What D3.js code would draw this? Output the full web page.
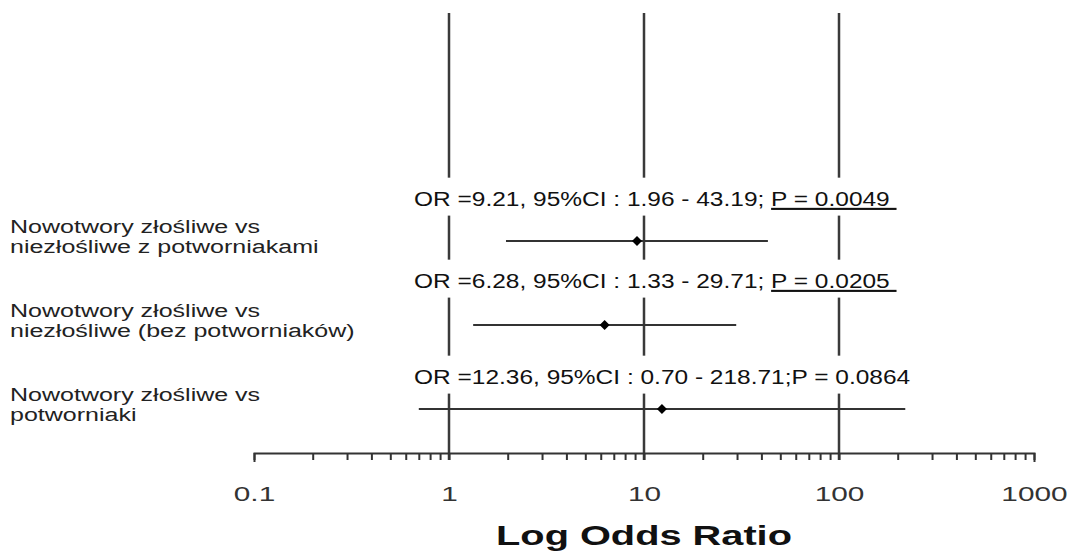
<!DOCTYPE html>
<html lang="pl">
<head>
<meta charset="UTF-8" />
<title>Log Odds Ratio</title>
<script src="https://cdn.jsdelivr.net/npm/d3@7/dist/d3.min.js"></script>
<style>
  html, body { margin: 0; padding: 0; background: #fff; }
  svg { display: block; font-family: "Liberation Sans", Arial, sans-serif; }
</style>
</head>
<body>
<script>
// data
var groupLabels = [
  ["Nowotwory złośliwe vs", "niezłośliwe z potworniakami"],
  ["Nowotwory złośliwe vs", "niezłośliwe (bez potworniaków)"],
  ["Nowotwory złośliwe vs", "potworniaki"]
];
var oddsRatios = [9.21, 6.28, 12.36];
var ciLower = [1.96, 1.33, 0.70];
var ciUpper = [43.19, 29.71, 218.71];
var pValues = ["0.0049", "0.0205", "0.0864"];
var pSignificant = [true, true, false];
var tickValues = [0.1, 1, 10, 100, 1000];
var tickLabels = ["0.1", "1", "10", "100", "1000"];
var refLines = [1, 10, 100];

var width = 1072, height = 553;
var axisY = 453;
var stretch = 1.42;          // the original picture is widened horizontally
var noteOffset = [-35, -37, -25];

var svg = d3.select("body").append("svg")
  .attr("width", width)
  .attr("height", height);

svg.append("rect").attr("width", width).attr("height", height).attr("fill", "#fff");

var x = d3.scaleLog().domain([0.1, 1000]).range([254, 1034]);
var y = d3.scalePoint().domain(d3.range(oddsRatios.length)).range([241, 409]);

// vertical reference lines
svg.selectAll(".ref")
  .data(refLines)
  .enter().append("line")
  .attr("class", "ref")
  .attr("x1", function(d) { return x(d); })
  .attr("x2", function(d) { return x(d); })
  .attr("y1", 13)
  .attr("y2", axisY + 7)
  .attr("stroke", "#3a3a3a")
  .attr("stroke-width", 2.5);

// minor + major ticks
var allTicks = [];
tickValues.slice(0, -1).forEach(function(t) {
  for (var k = 1; k < 10; k++) allTicks.push(+(t * k).toPrecision(3));
});
allTicks.push(1000);

var axis = d3.axisBottom(x)
  .tickValues(allTicks)
  .tickSize(7)
  .tickSizeOuter(9)
  .tickFormat("");

var gAxis = svg.append("g")
  .attr("transform", "translate(0," + axisY + ")")
  .call(axis);
gAxis.select(".domain").attr("stroke", "#333").attr("stroke-width", 2);
gAxis.selectAll(".tick line").attr("stroke", "#333").attr("stroke-width", 2);

// decade labels
var labelAxis = d3.axisBottom(x)
  .tickValues(tickValues)
  .tickSize(0)
  .tickFormat(function(d, i) { return tickLabels[i]; });

var gLabels = svg.append("g")
  .attr("transform", "translate(0," + axisY + ")")
  .call(labelAxis);
gLabels.select(".domain").remove();
gLabels.selectAll(".tick text")
  .attr("y", 48)
  .attr("dy", null)
  .attr("font-size", 21)
  .attr("font-family", "'Liberation Sans', Arial, sans-serif")
  .attr("fill", "#333")
  .attr("transform", "scale(" + stretch + ",1)");

// axis title
svg.append("text")
  .attr("transform", "translate(" + x(10) + ",545) scale(" + stretch + ",1)")
  .attr("text-anchor", "middle")
  .attr("font-size", 28)
  .attr("font-weight", "bold")
  .attr("fill", "#111")
  .text("Log Odds Ratio");

// annotation boxes with OR / CI / P text
oddsRatios.forEach(function(or, i) {
  var g = svg.append("g")
    .attr("transform", "translate(414," + (y(i) + noteOffset[i]) + ") scale(1.166,1)");
  var box = g.append("rect").attr("fill", "#fff");
  var t = g.append("text")
    .attr("font-size", 21)
    .attr("fill", "#111")
    .style("white-space", "pre");
  var sep = pSignificant[i] ? "; " : ";";
  t.append("tspan").text("OR =" + or.toFixed(2) + ", 95%CI : " + ciLower[i].toFixed(2) +
    " - " + ciUpper[i].toFixed(2) + sep);
  var p = t.append("tspan").text("P = " + pValues[i] + (pSignificant[i] ? "\u00a0" : ""));
  if (pSignificant[i]) p.style("text-decoration", "underline");
  var bb = t.node().getBBox();
  box.attr("x", bb.x - 3).attr("y", bb.y - 9)
    .attr("width", bb.width + 6).attr("height", bb.height + 14);
});

// confidence intervals
svg.selectAll(".ci")
  .data(oddsRatios)
  .enter().append("line")
  .attr("class", "ci")
  .attr("x1", function(d, i) { return x(ciLower[i]); })
  .attr("x2", function(d, i) { return x(ciUpper[i]); })
  .attr("y1", function(d, i) { return y(i); })
  .attr("y2", function(d, i) { return y(i); })
  .attr("stroke", "#333")
  .attr("stroke-width", 2);

// point estimates
svg.selectAll(".pt")
  .data(oddsRatios)
  .enter().append("path")
  .attr("class", "pt")
  .attr("d", d3.symbol().type(d3.symbolSquare).size(50))
  .attr("transform", function(d, i) { return "translate(" + x(d) + "," + y(i) + ") rotate(45)"; })
  .attr("fill", "#000");

// row labels on the left
groupLabels.forEach(function(lines, i) {
  lines.forEach(function(s, j) {
    svg.append("text")
      .attr("transform", "translate(10," + (y(i) - 8 + j * 20) + ") scale(1.39,1)")
      .attr("font-size", 18)
      .attr("fill", "#222")
      .text(s);
  });
});
</script>
</body>
</html>
